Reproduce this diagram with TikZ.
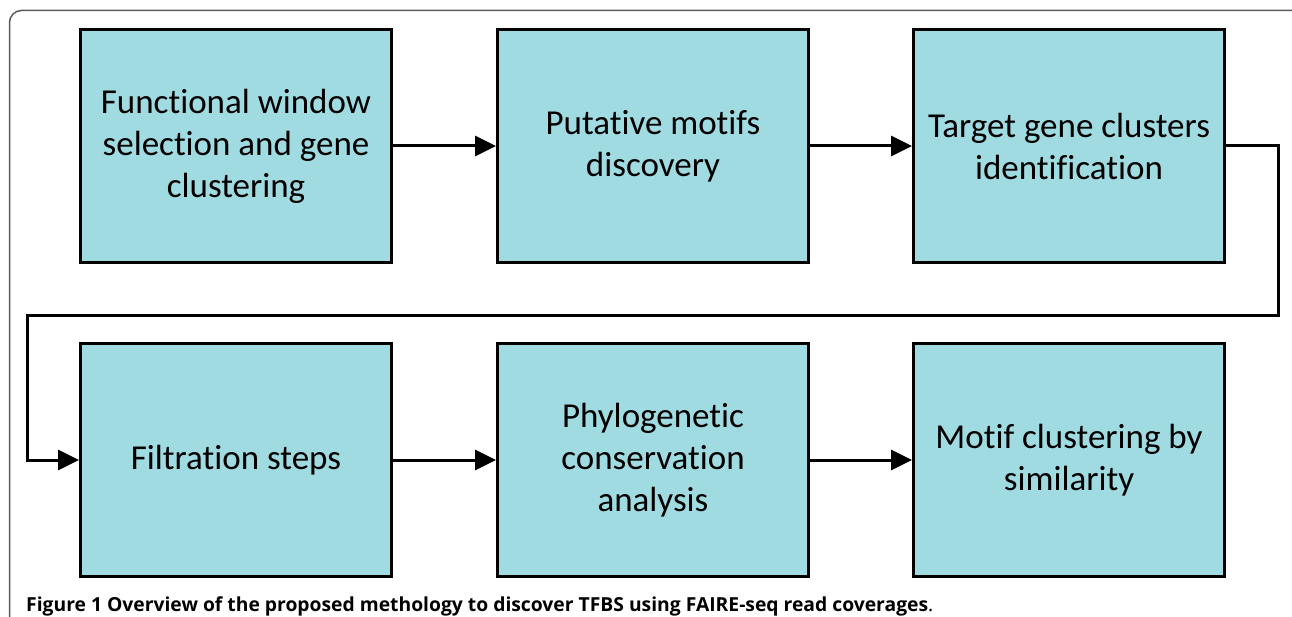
\documentclass[tikz,border=0pt]{standalone}
\usepackage{fontspec}
\setmainfont[RawFeature={-liga;-clig;-dlig;-calt}]{Carlito}
\newfontfamily\capfont{Open Sans}
\usetikzlibrary{arrows.meta}

\definecolor{boxfill}{RGB}{160,219,226}
\definecolor{framegray}{RGB}{90,90,90}

\tikzset{
  stage/.style={draw, line width=3pt, fill=boxfill, minimum width=311pt,
    minimum height=233pt, align=center, inner sep=0pt,
    font=\fontsize{35}{42}\selectfont},
  flow/.style={line width=3pt, -{Triangle[length=21pt,width=20pt]}}
}

\begin{document}
\begin{tikzpicture}[x=1pt,y=-1pt]
\useasboundingbox (0,0) rectangle (1292,617);
\clip (0,0) rectangle (1292,617);
\draw[framegray, line width=1.5pt, rounded corners=12pt] (9.5,10.5) rectangle (1310,640);

\node[stage] (win) at (236,146) {Functional window\\selection and gene\\clustering};
\node[stage] (mot) at (653,146) {Putative motifs\\discovery};
\node[stage] (tgt) at (1069,146) {Target gene clusters\\identification};

\node[stage] (fil) at (236,460) {Filtration steps};
\node[stage] (phy) at (653,460) {Phylogenetic\\conservation\\analysis};
\node[stage] (sim) at (1069,460) {Motif clustering by\\similarity};

\draw[flow] (win) -- (mot);
\draw[flow] (mot) -- (tgt);
\draw[flow] (tgt.east) -- ++(52,0) |- (27,316) |- (fil.west);
\draw[flow] (fil) -- (phy);
\draw[flow] (phy) -- (sim);

\node[anchor=base west, inner sep=0pt, font=\capfont\fontsize{19.3}{22}\selectfont] (cap) at (26,611)
  {\textbf{Figure 1 Overview of the proposed methology to discover TFBS using FAIRE-seq read coverages}.};
\end{tikzpicture}
\end{document}
